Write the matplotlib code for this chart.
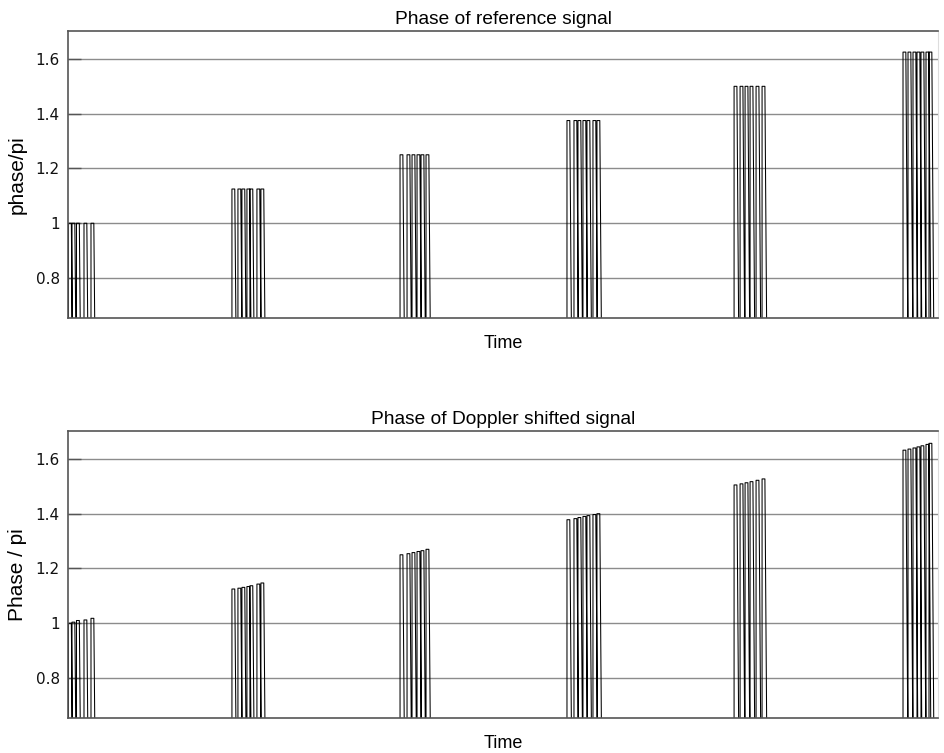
import matplotlib
matplotlib.use("Agg")
import matplotlib.pyplot as plt
from matplotlib.ticker import FuncFormatter

# Pulse start times (one list per burst, time in pulse-repetition units)
burst_starts = [
    [0.003, 0.024, 0.051, 0.096, 0.138],
    [0.984, 1.020, 1.044, 1.074, 1.092, 1.134, 1.158],
    [1.993, 2.035, 2.065, 2.095, 2.119, 2.149],
    [2.995, 3.037, 3.061, 3.091, 3.115, 3.151, 3.175],
    [3.998, 4.034, 4.064, 4.094, 4.130, 4.166],
    [5.012, 5.042, 5.072, 5.096, 5.120, 5.150, 5.168],
]

# Phase (in units of pi) of the reference signal for each burst
reference_phase = [1.000, 1.125, 1.250, 1.375, 1.500, 1.625]

# Phase (in units of pi) of the Doppler shifted signal, per pulse
doppler_phase = [
    [1.000, 1.004, 1.010, 1.012, 1.018],
    [1.125, 1.128, 1.131, 1.134, 1.137, 1.143, 1.147],
    [1.250, 1.254, 1.258, 1.262, 1.265, 1.270],
    [1.378, 1.382, 1.386, 1.390, 1.393, 1.397, 1.400],
    [1.505, 1.509, 1.513, 1.517, 1.522, 1.527],
    [1.632, 1.636, 1.640, 1.644, 1.648, 1.653, 1.657],
]

pulse_width = 0.017
fall_drift = 0.03        # the trailing edge leans slightly as the phase wraps
off_level = -1.0         # phase between pulses (below the visible range)
yticks = [0.8, 1.0, 1.2, 1.4, 1.6]


def pulse_trace(starts, levels):
    xs, ys = [], []
    for t, lvl in zip(starts, levels):
        xs += [t, t, t + pulse_width, t + pulse_width + fall_drift]
        ys += [off_level, lvl, lvl, off_level]
    return xs, ys


fig = plt.figure(figsize=(9.45, 7.53), dpi=100)
ax_top = fig.add_axes([68 / 945, 1 - 318 / 753, 870 / 945, 287 / 753])
ax_bot = fig.add_axes([68 / 945, 1 - 718 / 753, 870 / 945, 287 / 753])

label_font = "Liberation Sans"

for ax in (ax_top, ax_bot):
    ax.set_xlim(0, 5.222)
    ax.set_ylim(0.654, 1.702)
    ax.set_yticks(yticks)
    ax.yaxis.set_major_formatter(FuncFormatter(lambda v, p: f"{v:g}"))
    ax.set_xticks([])
    ax.grid(axis="y", color="#8c8c8c", linewidth=1.0)
    ax.set_axisbelow(True)
    ax.tick_params(axis="y", direction="in", length=9, width=1.0,
                   color="#555555", labelsize=11, pad=6,
                   labelcolor="#111111")
    for side in ("left", "bottom", "top"):
        ax.spines[side].set_color("#555555")
        ax.spines[side].set_linewidth(1.2)
    ax.spines["right"].set_color("#dddddd")
    ax.spines["right"].set_linewidth(0.8)

# Reference signal
for starts, lvl in zip(burst_starts, reference_phase):
    xs, ys = pulse_trace(starts, [lvl] * len(starts))
    ax_top.plot(xs, ys, color="black", linewidth=0.75)

# Doppler shifted signal
for starts, levels in zip(burst_starts, doppler_phase):
    xs, ys = pulse_trace(starts, levels)
    ax_bot.plot(xs, ys, color="black", linewidth=0.75)

ax_top.set_title("Phase of reference signal", fontsize=13.8,
                 family=label_font, pad=5)
ax_top.set_xlabel("Time", fontsize=13, family=label_font, labelpad=12)
ax_top.set_ylabel("phase/pi", fontsize=15, family=label_font, labelpad=6)

ax_bot.set_title("Phase of Doppler shifted signal", fontsize=13.8,
                 family=label_font, pad=5)
ax_bot.set_xlabel("Time", fontsize=13, family=label_font, labelpad=12)
ax_bot.set_ylabel("Phase / pi", fontsize=15, family=label_font, labelpad=6)

fig.savefig("out.png", dpi=100, facecolor="white")
